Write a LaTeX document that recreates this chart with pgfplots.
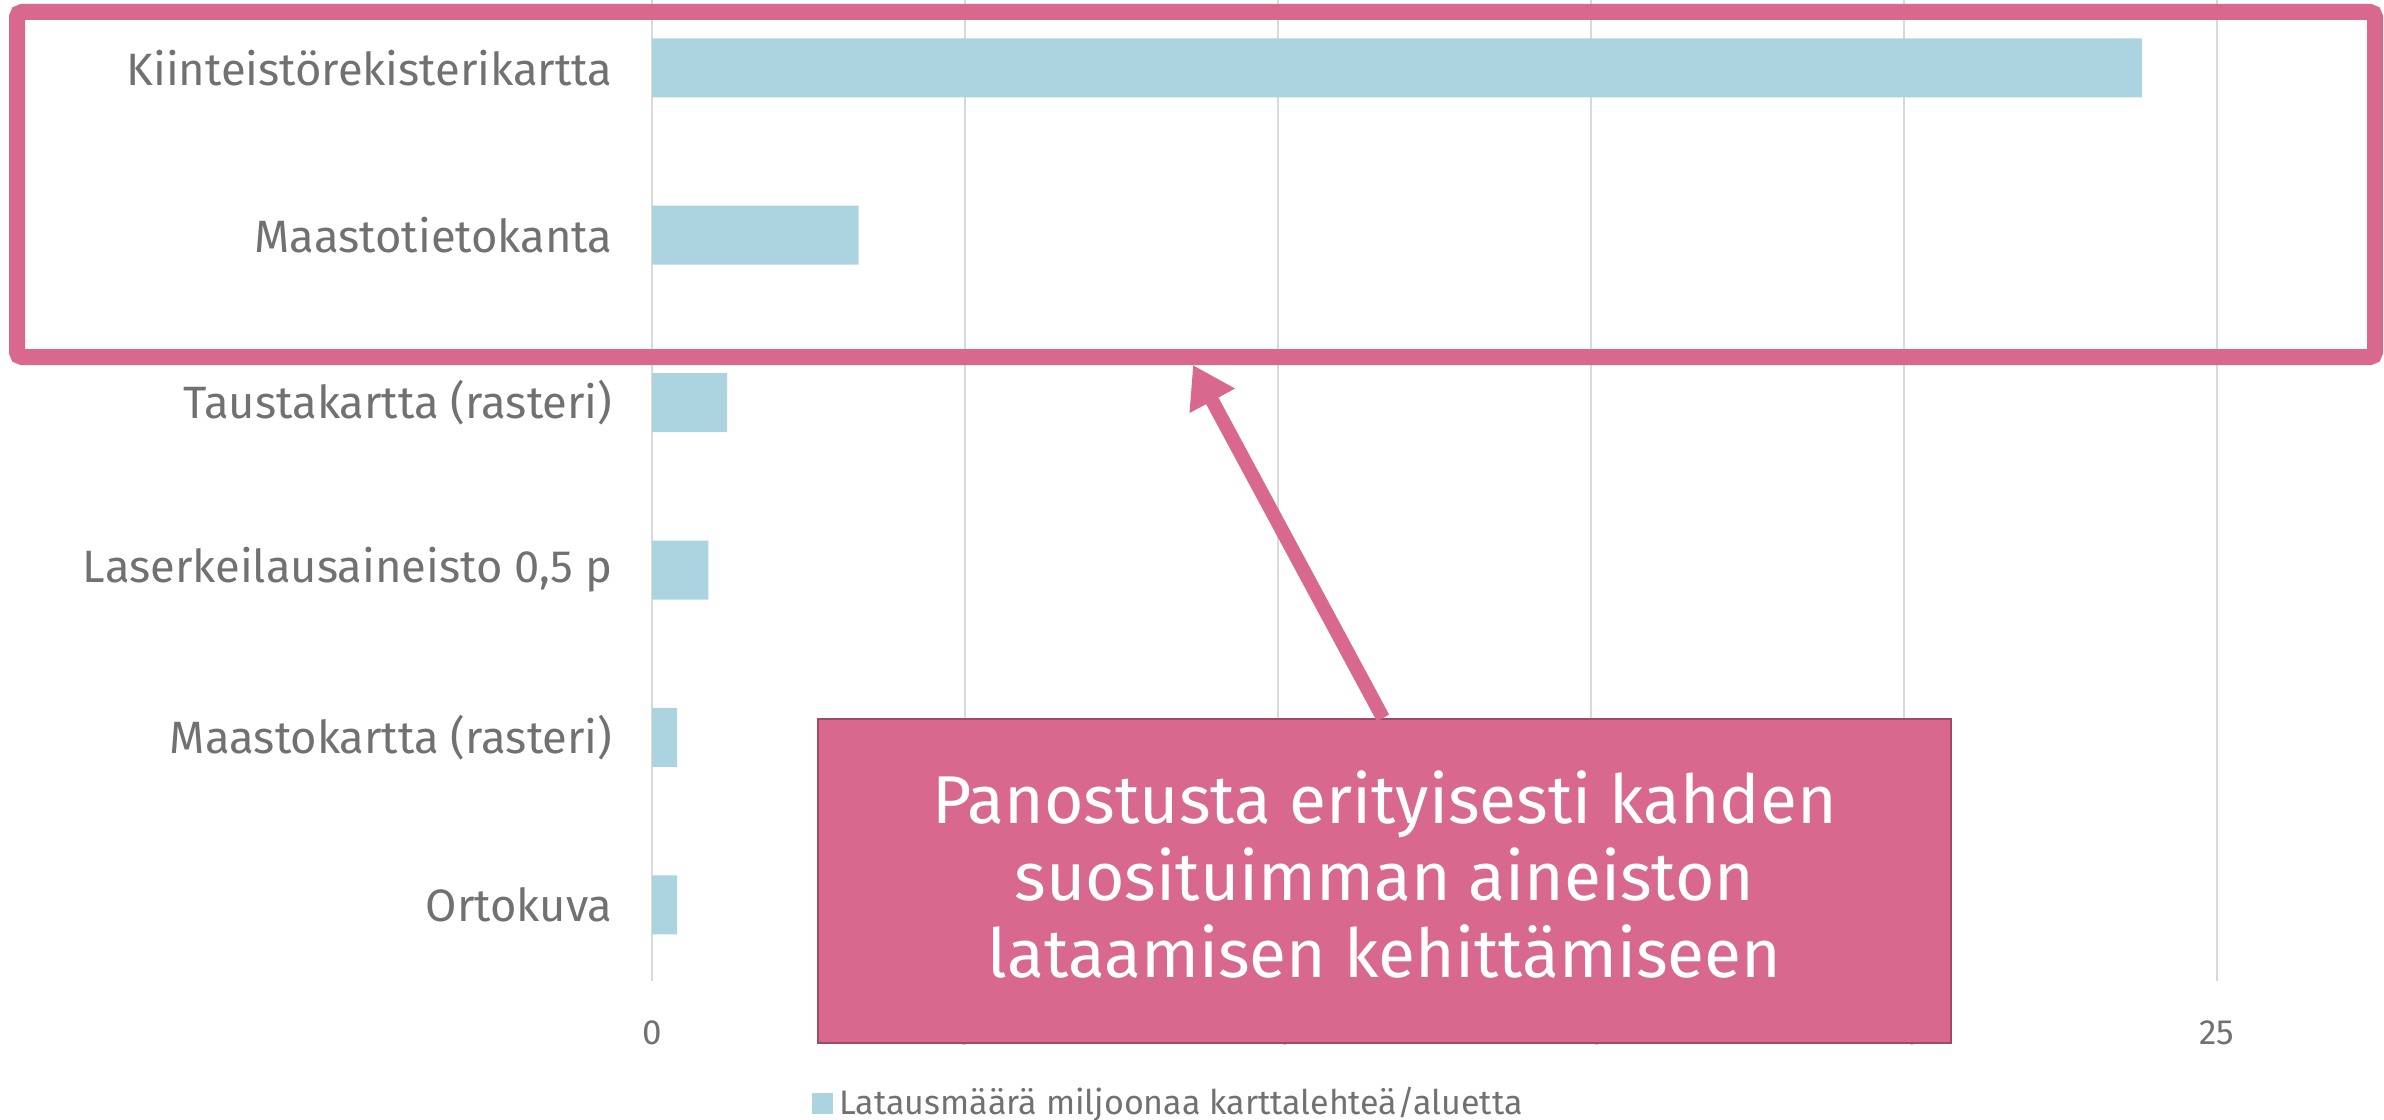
\documentclass[border=0pt]{standalone}
\usepackage{pgfplots}
\pgfplotsset{compat=1.18}
\usepackage{fontspec}
\setmainfont{Fira Sans}
\usetikzlibrary{arrows.meta}
\definecolor{barblue}{HTML}{ACD3E0}
\definecolor{txtgray}{HTML}{717171}
\definecolor{gridgray}{HTML}{D9D9D9}
\definecolor{pinkc}{HTML}{D9688E}
\definecolor{pinkdark}{HTML}{9E4A6A}
\begin{document}
\begin{tikzpicture}
\useasboundingbox (0,0) rectangle (715.2pt,335.7pt);
\begin{axis}[
  at={(195.6pt,41.4pt)}, anchor=south west,
  scale only axis, width=469.5pt, height=294.3pt,
  xmin=0, xmax=25, ymin=-0.455, ymax=5.405,
  xbar, bar width=17.7pt,
  xtick={0,5,10,15,20,25},
  ytick={0,1,2,3,4,5},
  yticklabels={Ortokuva,Maastokartta (rasteri),{Laserkeilausaineisto 0,5 p},Taustakartta (rasteri),Maastotietokanta,Kiinteistörekisterikartta},
  axis line style={draw=none},
  major tick length=0pt,
  xmajorgrids,
  grid style={color=gridgray, line width=0.6pt},
  /pgf/number format/assume math mode=true,
  yticklabel style={font=\fontsize{13.6pt}{15pt}\selectfont, text=txtgray, anchor=east, inner sep=0pt, xshift=-11.7pt},
  xticklabel style={font=\fontsize{10.5pt}{12pt}\selectfont, text=txtgray, anchor=north, inner sep=0pt, yshift=-11.7pt},
  legend style={draw=none, fill=none, at={(rel axis cs:0.1016,-0.1244)}, anchor=west, inner sep=0pt, font=\fontsize{10.2pt}{12pt}\selectfont, text=txtgray},
  legend cell align=left,
  legend image code/.code={\fill[#1,draw=none] (0pt,-3.15pt) rectangle (6.3pt,3.15pt);},
]
\addplot[fill=barblue, draw=none] coordinates {
  (0.4,0) (0.4,1) (0.9,2) (1.2,3) (3.3,4) (23.8,5)
};
\addlegendentry{Latausmäärä miljoonaa karttalehteä/aluetta}
\end{axis}
% highlight frame
\draw[pinkc, line width=4.8pt, rounded corners=1.5pt] (5.1pt,332.1pt) rectangle (712.5pt,228.6pt);
% callout box
\draw[pinkdark, fill=pinkc, line width=0.6pt] (245.4pt,120pt) rectangle (585.3pt,22.8pt);
\draw[pinkc, line width=4.2pt, -{Triangle[length=12.2pt, width=14.6pt]}] (414.9pt,120.3pt) -- (357.9pt,226.2pt);
\node[white, anchor=base, font=\fontsize{20.3pt}{23.1pt}\selectfont] at (415.35pt,88.8pt) {Panostusta erityisesti kahden};
\node[white, anchor=base, font=\fontsize{20.3pt}{23.1pt}\selectfont] at (415.35pt,65.7pt) {suosituimman aineiston};
\node[white, anchor=base, font=\fontsize{20.3pt}{23.1pt}\selectfont] at (415.35pt,42.6pt) {lataamisen kehittämiseen};
\end{tikzpicture}
\end{document}
